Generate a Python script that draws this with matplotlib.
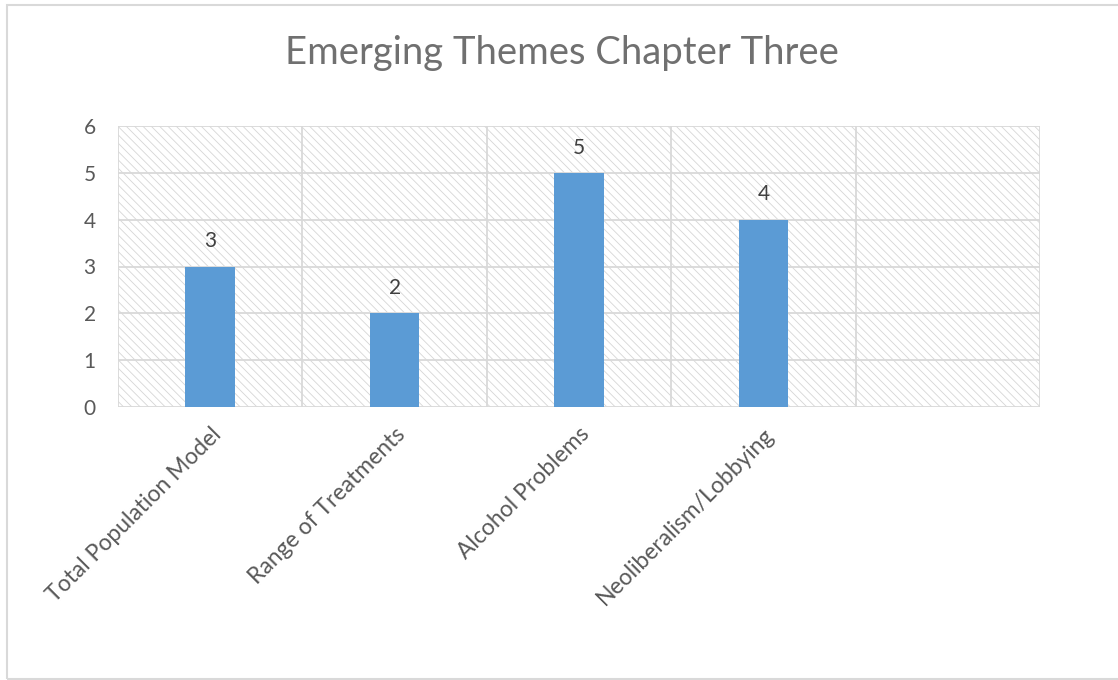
import matplotlib
matplotlib.use("Agg")
import matplotlib.pyplot as plt
from matplotlib.patches import Rectangle

categories = ["Total Population Model", "Range of Treatments", "Alcohol Problems",
              "Neoliberalism/Lobbying", ""]
values = [3, 2, 5, 4, None]
yticks = [0, 1, 2, 3, 4, 5, 6]
title = "Emerging Themes Chapter Three"

plt.rcParams['font.family'] = ['Lato', 'DejaVu Sans']
plt.rcParams['hatch.linewidth'] = 0.6

W, H = 1118, 680
fig = plt.figure(figsize=(W / 100, H / 100), dpi=100)
fig.patch.set_facecolor("white")

# outer chart border
fig.add_artist(Rectangle((7 / W, 1 - 679 / H), (W + 20) / W, (679 - 5) / H,
                         transform=fig.transFigure, fill=False,
                         edgecolor="#d9d9d9", linewidth=1.5))

ax = fig.add_axes([118 / W, 1 - 407 / H, (1040 - 118) / W, (407 - 126) / H])
ax.set_xlim(-0.5, len(categories) - 0.5)
ax.set_ylim(0, 6)

# hatched background
ax.add_patch(Rectangle((0, 0), 1, 1, transform=ax.transAxes, facecolor="white",
                       edgecolor="#d6d6d6", hatch="\\\\\\\\", linewidth=0, zorder=0))

gray = "#d9d9d9"
for y in yticks:
    ax.axhline(y, color=gray, linewidth=1.3, zorder=1)
for i in range(len(categories) + 1):
    ax.axvline(i - 0.5, color=gray, linewidth=1.3, zorder=1)

xs = [i for i, v in enumerate(values) if v is not None]
vs = [v for v in values if v is not None]
bars = ax.bar(xs, vs, width=0.27, color="#5b9bd5", zorder=3)
for x, v in zip(xs, vs):
    ax.annotate(str(v), (x, v), xytext=(0, 11), textcoords="offset points",
                ha="center", va="bottom", fontsize=15, color="#404040")

for s in ax.spines.values():
    s.set_visible(False)

ax.set_yticks(yticks)
ax.set_yticklabels([str(t) for t in yticks], fontsize=15, color="#595959")
ax.tick_params(axis="y", length=0, pad=16)
ax.set_xticks(range(len(categories)))
ax.set_xticklabels(categories, rotation=45, ha="right", va="top",
                   rotation_mode="anchor", fontsize=16.5, color="#595959")
ax.tick_params(axis="x", length=0, pad=12)

fig.text(0.503, 1 - 53 / H, title, ha="center", va="center", fontsize=27.5,
         color="#707070")

fig.savefig("out.png", dpi=100, facecolor="white")
